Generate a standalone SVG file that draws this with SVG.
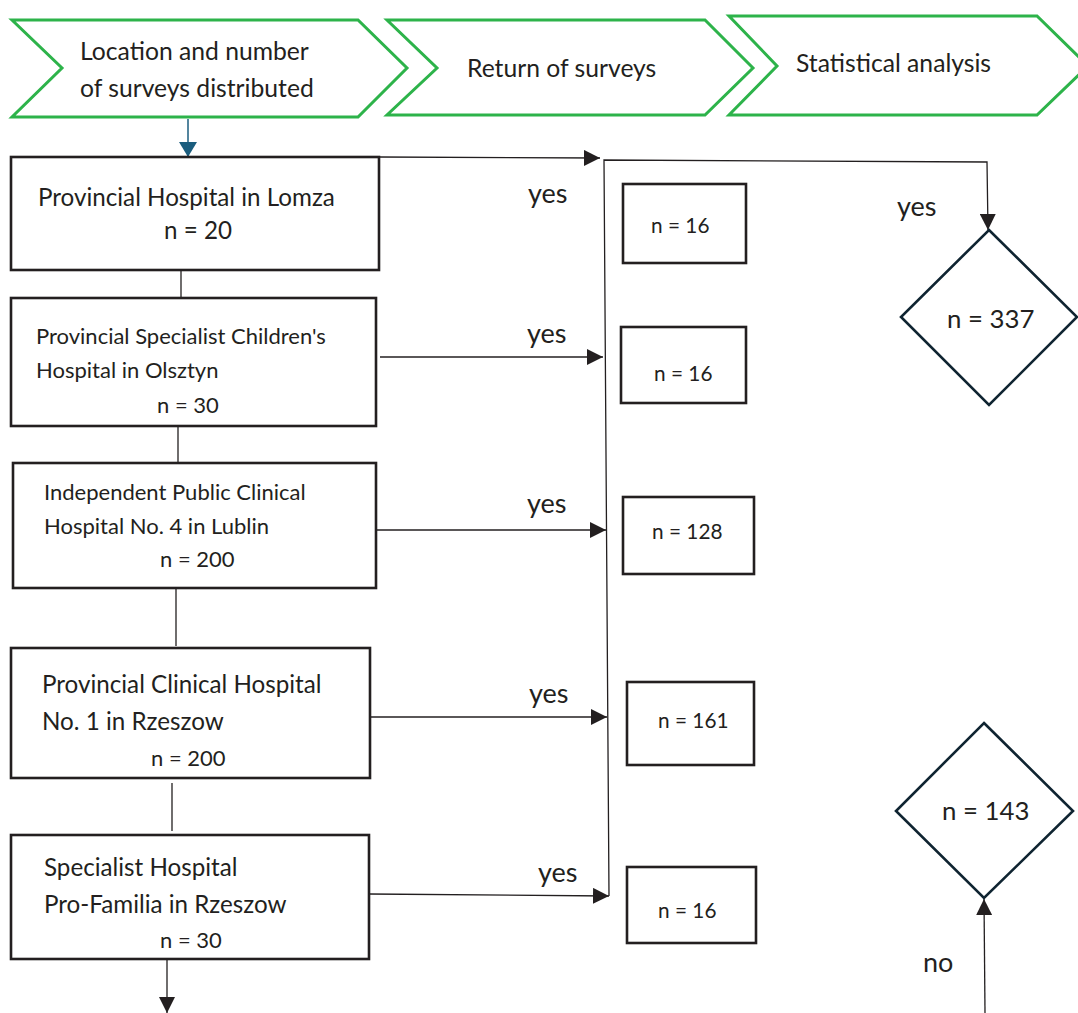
<svg xmlns="http://www.w3.org/2000/svg" width="1078" height="1013" viewBox="0 0 1078 1013">
<style>
  text { font-family: Lato, "Open Sans", "Liberation Sans", sans-serif; fill: #231f20; }
  .chev { fill: #ffffff; stroke: #2db34a; stroke-width: 3; stroke-linejoin: miter; }
  .box { fill: #ffffff; stroke: #231f20; stroke-width: 2.6; }
  .dia { fill: #ffffff; stroke: #0f2431; stroke-width: 2.6; }
  .line { fill: none; stroke: #231f20; stroke-width: 1.3; }
  .hd { font-size: 24.7px; }
  .bt { font-size: 24.2px; }
  .bs { font-size: 22px; }
  .sn { font-size: 20.8px; }
  .dn { font-size: 25.8px; }
  .lbl { font-size: 27px; }
</style>
<defs>
  <marker id="ah" markerUnits="userSpaceOnUse" markerWidth="18" markerHeight="16" refX="16" refY="8" orient="auto">
    <path d="M0,0 L16,8 L0,16 Z" fill="#231f20"/>
  </marker>
  <marker id="ahb" markerUnits="userSpaceOnUse" markerWidth="18" markerHeight="18" refX="15" refY="9" orient="auto">
    <path d="M0,0 L15,9 L0,18 Z" fill="#1b5d7e"/>
  </marker>
</defs>

<g id="stage1">
  <polygon class="chev" points="12,20 358,20 407,68 358,117 12,117 62,68"/>
  <text class="hd" x="80" y="60">Location and number</text>
  <text class="hd" x="80" y="97">of surveys distributed</text>
</g>
<g id="stage2">
  <polygon class="chev" points="387,20 705,20 753,68 705,115 387,115 437,68"/>
  <text class="hd" x="467" y="77">Return of surveys</text>
</g>
<g id="stage3">
  <polygon class="chev" points="729,16 1037,16 1088,66 1037,115 729,115 777,66"/>
  <text class="hd" x="796" y="72">Statistical analysis</text>
</g>

<g id="connectors">
  <line x1="188" y1="119" x2="188" y2="157" stroke="#1b5d7e" stroke-width="1.5" marker-end="url(#ahb)"/>
  <polyline class="line" points="379,157 600,158" marker-end="url(#ah)"/>
  <polyline class="line" points="609,896 604,160 987,162 988,230" marker-end="url(#ah)"/>
  <line class="line" x1="181" y1="271" x2="181" y2="298"/>
  <line class="line" x1="178" y1="426" x2="178" y2="463"/>
  <line class="line" x1="176" y1="588" x2="176" y2="646"/>
  <line class="line" x1="172" y1="783" x2="172" y2="831"/>
  <line class="line" x1="380" y1="357" x2="603" y2="357" marker-end="url(#ah)"/>
  <line class="line" x1="376" y1="530" x2="606" y2="530" marker-end="url(#ah)"/>
  <line class="line" x1="369" y1="717" x2="607" y2="717" marker-end="url(#ah)"/>
  <line class="line" x1="369" y1="894" x2="609" y2="896" marker-end="url(#ah)"/>
  <line class="line" x1="167" y1="959" x2="167" y2="1013" marker-end="url(#ah)"/>
  <line class="line" x1="985" y1="1013" x2="984" y2="899" marker-end="url(#ah)"/>
  <text class="lbl" x="528" y="203">yes</text>
  <text class="lbl" x="527" y="343">yes</text>
  <text class="lbl" x="527" y="513">yes</text>
  <text class="lbl" x="529" y="703">yes</text>
  <text class="lbl" x="538" y="882">yes</text>
  <text class="lbl" x="897" y="216">yes</text>
  <text class="lbl" x="923" y="972">no</text>
</g>

<g id="lomza">
  <rect class="box" x="11" y="157" width="368" height="113"/>
  <text class="bt" x="38" y="206">Provincial Hospital in Lomza</text>
  <text class="bt" x="164" y="239">n = 20</text>
</g>
<g id="olsztyn">
  <rect class="box" x="11" y="298" width="365" height="128"/>
  <text class="bs" x="36" y="344">Provincial Specialist Children's</text>
  <text class="bs" x="36" y="378">Hospital in Olsztyn</text>
  <text class="bs" x="157" y="413">n = 30</text>
</g>
<g id="lublin">
  <rect class="box" x="13" y="463" width="363" height="125"/>
  <text class="bs" x="44" y="500">Independent Public Clinical</text>
  <text class="bs" x="44" y="534">Hospital No. 4 in Lublin</text>
  <text class="bs" x="160" y="567">n = 200</text>
</g>
<g id="rzeszow1">
  <rect class="box" x="11" y="648" width="359" height="130"/>
  <text class="bt" x="42" y="693">Provincial Clinical Hospital</text>
  <text class="bt" x="42" y="730">No. 1 in Rzeszow</text>
  <text class="bs" x="151" y="766">n = 200</text>
</g>
<g id="rzeszow2">
  <rect class="box" x="11" y="835" width="358" height="124"/>
  <text class="bt" x="44" y="876">Specialist Hospital</text>
  <text class="bt" x="44" y="913">Pro-Familia in Rzeszow</text>
  <text class="bs" x="160" y="948">n = 30</text>
</g>

<g id="ret1">
  <rect class="box" x="623" y="184" width="123" height="79"/>
  <text class="sn" x="651" y="233">n = 16</text>
</g>
<g id="ret2">
  <rect class="box" x="621" y="327" width="125" height="76"/>
  <text class="sn" x="654" y="381">n = 16</text>
</g>
<g id="ret3">
  <rect class="box" x="623" y="497" width="131" height="77"/>
  <text class="sn" x="652" y="539">n = 128</text>
</g>
<g id="ret4">
  <rect class="box" x="627" y="682" width="127" height="83"/>
  <text class="sn" x="658" y="728">n = 161</text>
</g>
<g id="ret5">
  <rect class="box" x="627" y="867" width="129" height="76"/>
  <text class="sn" x="658" y="918">n = 16</text>
</g>

<g id="yes337">
  <polygon class="dia" points="989,230 1077,317 989,405 901,317"/>
  <text class="dn" x="947" y="328">n = 337</text>
</g>
<g id="no143">
  <polygon class="dia" points="984,723 1073,811 984,898 896,811"/>
  <text class="dn" x="942" y="820">n = 143</text>
</g>
</svg>
